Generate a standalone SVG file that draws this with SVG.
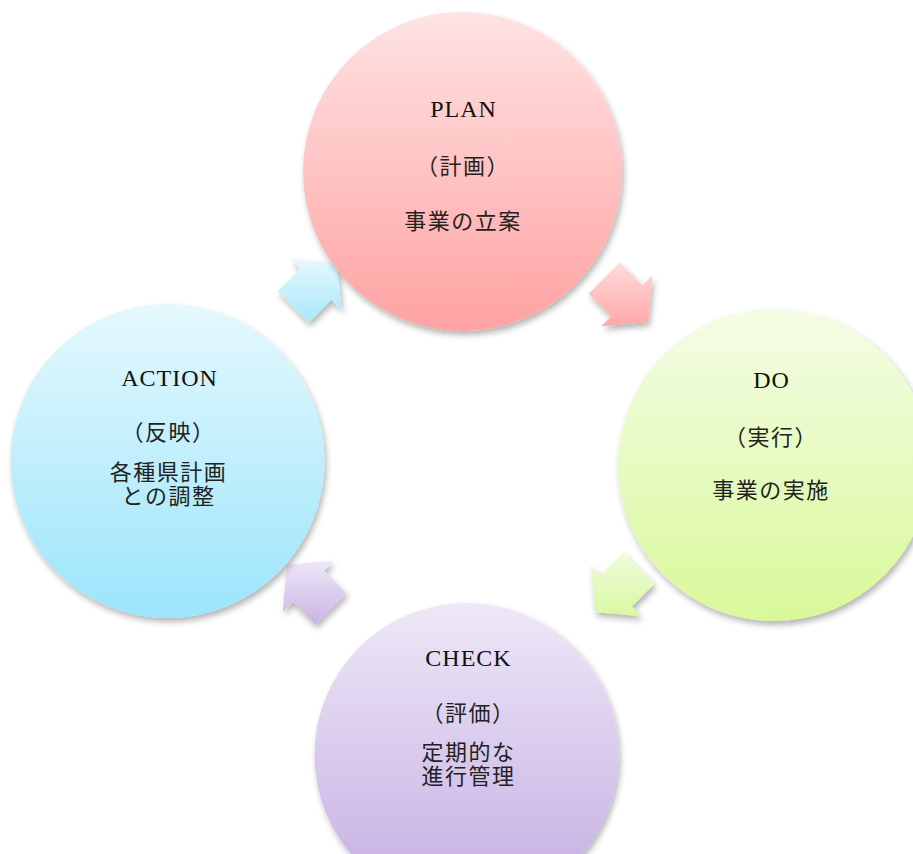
<svg xmlns="http://www.w3.org/2000/svg" width="913" height="854" viewBox="0 0 913 854">
  <defs>
    <linearGradient id="gPlan" x1="0" y1="0" x2="0" y2="1">
      <stop offset="0" stop-color="#ffe3e3"/>
      <stop offset="1" stop-color="#ffa2a2"/>
    </linearGradient>
    <linearGradient id="gDo" x1="0" y1="0" x2="0" y2="1">
      <stop offset="0" stop-color="#f4fde6"/>
      <stop offset="1" stop-color="#d9f89a"/>
    </linearGradient>
    <linearGradient id="gCheck" x1="0" y1="0" x2="0" y2="1">
      <stop offset="0" stop-color="#eee8f7"/>
      <stop offset="1" stop-color="#c4ace2"/>
    </linearGradient>
    <linearGradient id="gAction" x1="0" y1="0" x2="0" y2="1">
      <stop offset="0" stop-color="#e5f8fd"/>
      <stop offset="1" stop-color="#9ce5fb"/>
    </linearGradient>
    <linearGradient id="aPlan" x1="0" y1="0" x2="0" y2="1">
      <stop offset="0" stop-color="#ffdcdc"/>
      <stop offset="1" stop-color="#ffa6a6"/>
    </linearGradient>
    <linearGradient id="aDo" x1="0" y1="0" x2="0" y2="1">
      <stop offset="0" stop-color="#f0fcdc"/>
      <stop offset="1" stop-color="#d8f8a2"/>
    </linearGradient>
    <linearGradient id="aCheck" x1="0" y1="0" x2="0" y2="1">
      <stop offset="0" stop-color="#eee7f7"/>
      <stop offset="1" stop-color="#c9b4e5"/>
    </linearGradient>
    <linearGradient id="aAction" x1="0" y1="0" x2="0" y2="1">
      <stop offset="0" stop-color="#e6f8fd"/>
      <stop offset="1" stop-color="#a8e8fb"/>
    </linearGradient>
    <filter id="shadow" x="-20%" y="-20%" width="140%" height="140%">
      <feGaussianBlur in="SourceAlpha" stdDeviation="3"/>
      <feOffset dx="2" dy="4" result="b"/>
      <feComponentTransfer>
        <feFuncA type="linear" slope="0.3"/>
      </feComponentTransfer>
      <feMerge>
        <feMergeNode/>
        <feMergeNode in="SourceGraphic"/>
      </feMerge>
    </filter>
    <style>
      .lat { font-family: "Liberation Serif", "Times New Roman", serif; font-size: 24px; fill: #111; text-anchor: middle; letter-spacing: 1px; }
      .jp { font-family: "Noto Sans CJK JP", "Noto Sans CJK SC", sans-serif; font-size: 22px; fill: #222; text-anchor: middle; letter-spacing: 1.5px; }
      .node circle { filter: url(#shadow); }
      .arrow { filter: url(#shadow); }
    </style>
  </defs>

  <g id="connectors">
    <polygon class="arrow" fill="url(#aAction)" points="337,263 290.3,258.8 300.2,268.7 277.6,291.3 308.7,322.4 331.4,299.8 341.3,309.7"/>
    <polygon class="arrow" fill="url(#aPlan)" points="648,322 652.3,275.3 642.4,285.2 619.7,262.6 588.6,293.7 611.2,316.4 601.3,326.3"/>
    <polygon class="arrow" fill="url(#aDo)" points="595,612 590.8,565.3 600.7,575.2 623.3,552.6 654.4,583.7 631.8,606.4 641.7,616.3"/>
    <polygon class="arrow" fill="url(#aCheck)" points="287,565 333.7,560.8 323.8,570.7 346.4,593.3 315.3,624.4 292.7,601.8 282.8,611.7"/>
  </g>

  <g id="plan" class="node">
    <circle cx="462.5" cy="171.5" r="159.5" fill="url(#gPlan)"/>
    <text class="lat" x="463.5" y="117">PLAN</text>
    <text class="jp" x="463" y="174">（計画）</text>
    <text class="jp" x="463" y="229">事業の立案</text>
  </g>

  <g id="do" class="node">
    <circle cx="774" cy="465" r="156" fill="url(#gDo)"/>
    <text class="lat" x="771.5" y="388">DO</text>
    <text class="jp" x="771" y="445">（実行）</text>
    <text class="jp" x="771" y="498">事業の実施</text>
  </g>

  <g id="check" class="node">
    <circle cx="466.5" cy="755" r="152" fill="url(#gCheck)"/>
    <text class="lat" x="468.5" y="666">CHECK</text>
    <text class="jp" x="468.5" y="721">（評価）</text>
    <text class="jp"><tspan x="468.5" y="760">定期的な</tspan><tspan x="468.5" y="784">進行管理</tspan></text>
  </g>

  <g id="action" class="node">
    <circle cx="167.5" cy="461" r="157" fill="url(#gAction)"/>
    <text class="lat" x="169.5" y="386">ACTION</text>
    <text class="jp" x="168.5" y="440">（反映）</text>
    <text class="jp"><tspan x="168.5" y="480">各種県計画</tspan><tspan x="168.5" y="504">との調整</tspan></text>
  </g>
</svg>
